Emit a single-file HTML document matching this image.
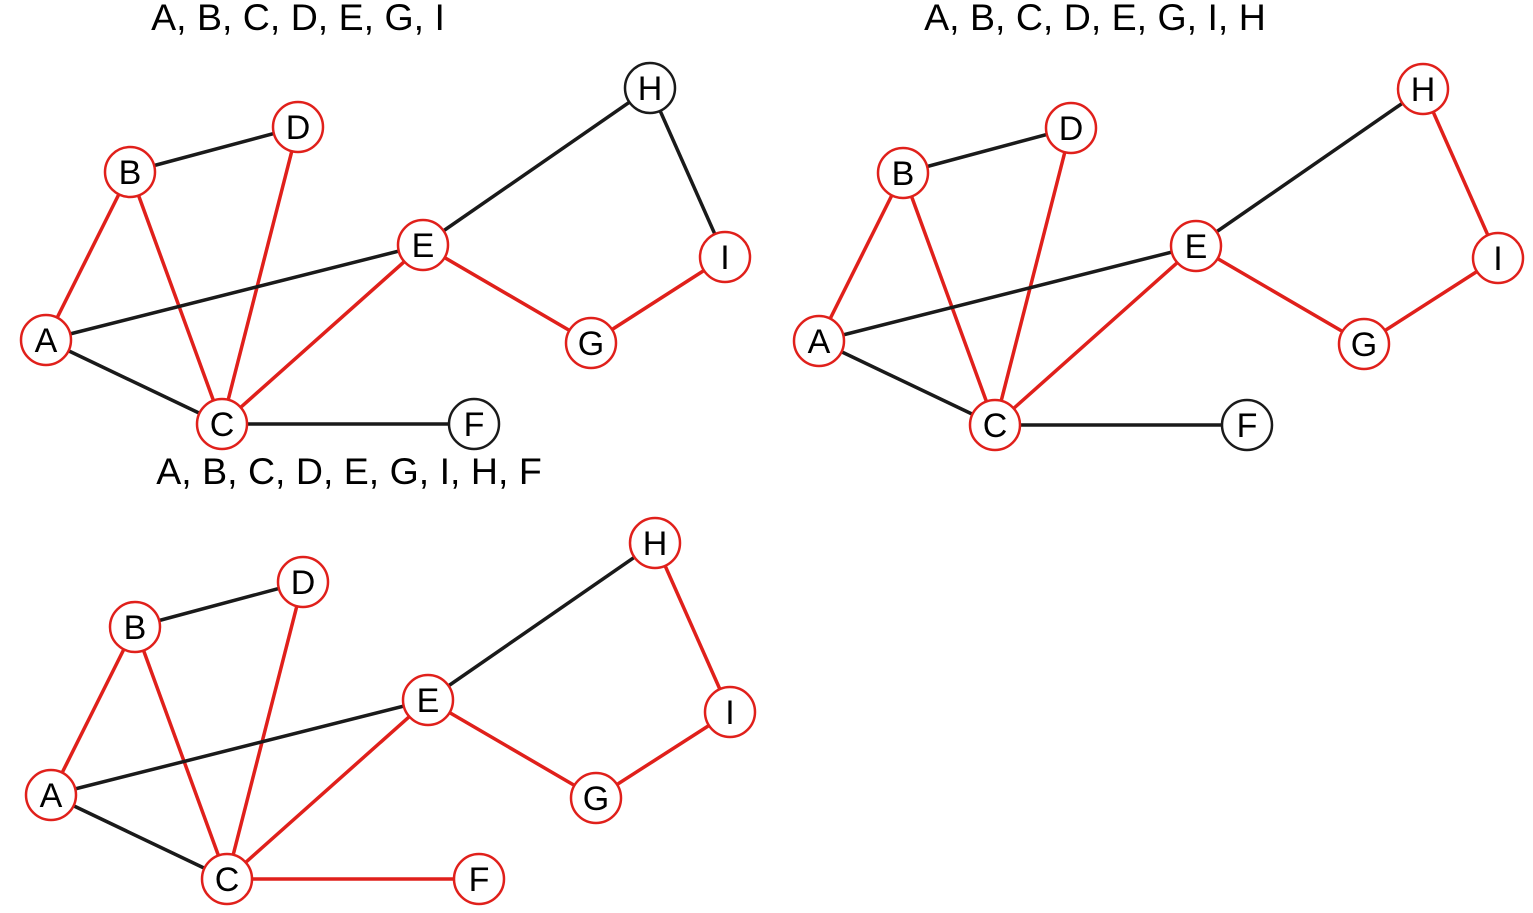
<!DOCTYPE html>
<html><head><meta charset="utf-8">
<style>
html,body{margin:0;padding:0;background:#fff;}
svg{display:block;font-family:"Liberation Sans",Arial,sans-serif;}
</style></head>
<body>
<svg id="chart" width="1533" height="913" viewBox="0 0 1533 913"></svg>
<script>
const nodeNames = ["A","B","C","D","E","F","G","H","I"];
const nodeX = [46,130,222,298,423,474,591,650,725];
const nodeY = [340,172,424,127,245,424,343,88,257];
const edgeFrom = ["A","B","B","D","A","A","C","C","E","E","G","H"];
const edgeTo   = ["B","D","C","C","E","C","E","F","H","G","I","I"];
const panelTitles = ["A, B, C, D, E, G, I","A, B, C, D, E, G, I, H","A, B, C, D, E, G, I, H, F"];
const panelVisited = [["A","B","C","D","E","G","I"],["A","B","C","D","E","G","I","H"],["A","B","C","D","E","G","I","H","F"]];
const panelRedEdges = [
  ["A-B","B-C","D-C","C-E","E-G","G-I"],
  ["A-B","B-C","D-C","C-E","E-G","G-I","H-I"],
  ["A-B","B-C","D-C","C-E","E-G","G-I","H-I","C-F"]
];
const panelDX = [0,773,5];
const panelDY = [0,1,455];
const titleX = [298,1095,349];
const titleY = [30,30,484];

const NS="http://www.w3.org/2000/svg";
const svg=document.getElementById('chart');
const RED="#e0201b", BLK="#1a1a1a";
function mk(tag,attrs,parent){const e=document.createElementNS(NS,tag);for(const k in attrs)e.setAttribute(k,attrs[k]);parent.appendChild(e);return e;}
function px(p,n){return nodeX[nodeNames.indexOf(n)]+panelDX[p];}
function py(p,n){return nodeY[nodeNames.indexOf(n)]+panelDY[p];}

for(let p=0;p<panelTitles.length;p++){
  const g=mk('g',{},svg);
  
  
  const t=mk('text',{x:titleX[p],y:titleY[p],'text-anchor':'middle','font-size':37.5,fill:'#000'},g);
  
  
  t.textContent=panelTitles[p];
  for(let i=0;i<edgeFrom.length;i++){
    const key=edgeFrom[i]+'-'+edgeTo[i];
    const red=panelRedEdges[p].includes(key);
    const l=mk('line',{x1:px(p,edgeFrom[i]),y1:py(p,edgeFrom[i]),x2:px(p,edgeTo[i]),y2:py(p,edgeTo[i]),stroke:red?RED:BLK,'stroke-width':3.5},g);
    
    
  }
  for(let i=0;i<nodeNames.length;i++){
    const n=nodeNames[i];
    const red=panelVisited[p].includes(n);
    const c=mk('circle',{cx:px(p,n),cy:py(p,n),r:25,fill:'#fff',stroke:red?RED:BLK,'stroke-width':2.5},g);
    
    
    const tx=mk('text',{x:px(p,n),y:py(p,n)+12,'text-anchor':'middle','font-size':34,fill:'#000'},g);
    
    
    tx.textContent=n;
  }
}
</script>
</body></html>
